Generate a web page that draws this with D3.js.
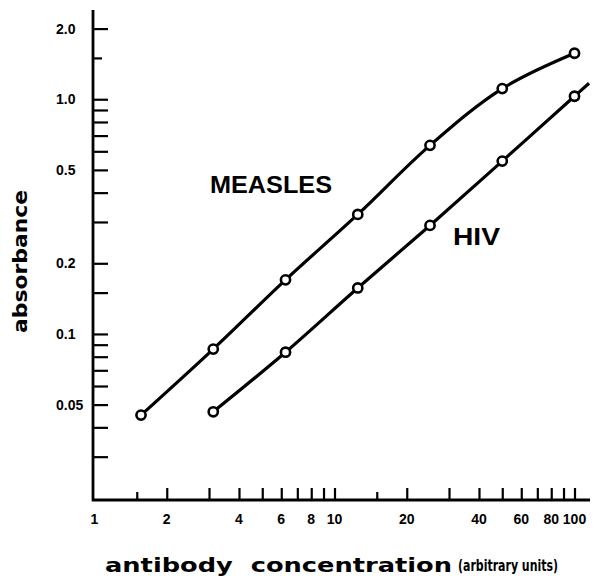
<!DOCTYPE html>
<html>
<head>
<meta charset="utf-8">
<script src="https://cdn.jsdelivr.net/npm/d3@7"></script>
<style>
  html, body { margin: 0; padding: 0; background: #fff; }
  svg { display: block; }
  text { fill: #000; }
</style>
</head>
<body>
<svg id="chart" width="595" height="576"></svg>
<script>
// ---- data ----
const measlesConc = [1.5625, 3.125, 6.25, 12.5, 25, 50, 100];
const measlesAbs  = [0.0451, 0.0862, 0.170, 0.323, 0.636, 1.11, 1.57];
const hivConc     = [3.125, 6.25, 12.5, 25, 50, 100];
const hivAbs      = [0.0466, 0.0836, 0.157, 0.290, 0.545, 1.03];
const hivLineEnd  = [115, 1.17];   // the HIV line runs on past its last point

const xTickValues  = [1.5, 2, 3, 4, 5, 6, 7, 8, 9, 10, 15, 20, 30, 40, 50, 60, 70, 80, 90, 100];
const xShortTicks  = [1.5, 15];
const xTickLabels  = [1, 2, 4, 6, 8, 10, 20, 40, 60, 80, 100];
const yTickValues  = [2, 1.5, 1, 0.9, 0.8, 0.7, 0.6, 0.5, 0.4, 0.3, 0.2, 0.15, 0.1, 0.09, 0.08, 0.07, 0.06, 0.05, 0.04, 0.03];
const yShortTicks  = [1.5];
const yTickLabels  = [["2.0", 2], ["1.0", 1], ["0.5", 0.5], ["0.2", 0.2], ["0.1", 0.1], ["0.05", 0.05]];

const svg = d3.select("#chart");

const x = d3.scaleLog().domain([1, 100]).range([94.5, 574.5]);
const y = d3.scaleLog().domain([0.02, 2.4]).range([498, 10]);

const axisX0 = 93, axisY0 = 500;

// ---- axes ----
const gx = svg.append("g").attr("transform", `translate(0,${axisY0})`);
gx.call(d3.axisBottom(x).tickValues(xTickValues).tickFormat("").tickSizeOuter(0).tickSizeInner(0));
gx.select(".domain").remove();
gx.selectAll(".tick line")
  .attr("y2", d => xShortTicks.includes(d) ? -8 : -12)
  .attr("stroke", "#000").attr("stroke-width", 2.2);
gx.append("line").attr("x1", axisX0 - 1).attr("x2", 590).attr("y1", 0).attr("y2", 0)
  .attr("stroke", "#000").attr("stroke-width", 2.8);

gx.selectAll("text.xl").data(xTickLabels).enter().append("text")
  .attr("class", "xl")
  .attr("x", d => x(d)).attr("y", 24)
  .attr("text-anchor", "middle")
  .style("font-family", "'Liberation Sans', Arial, sans-serif")
  .style("font-weight", "bold").style("font-size", "14px")
  .text(d => d);

const gy = svg.append("g").attr("transform", `translate(${axisX0},0)`);
gy.call(d3.axisLeft(y).tickValues(yTickValues).tickFormat("").tickSizeOuter(0).tickSizeInner(0));
gy.select(".domain").remove();
gy.selectAll(".tick line")
  .attr("x2", d => yShortTicks.includes(d) ? 9 : 15)
  .attr("stroke", "#000").attr("stroke-width", 2.2);
gy.append("line").attr("x1", 0).attr("x2", 0).attr("y1", 10).attr("y2", axisY0 + 1)
  .attr("stroke", "#000").attr("stroke-width", 2.8);

svg.selectAll("text.yl").data(yTickLabels).enter().append("text")
  .attr("class", "yl")
  .attr("x", 56).attr("y", d => y(d[1]) + 5)
  .style("font-family", "'Liberation Sans', Arial, sans-serif")
  .style("font-weight", "bold").style("font-size", "14px")
  .text(d => d[0]);

// ---- axis titles ----
svg.append("text")
  .attr("transform", "translate(27,333) rotate(-90)")
  .attr("textLength", 143).attr("lengthAdjust", "spacingAndGlyphs")
  .style("font-family", "'DejaVu Sans', sans-serif")
  .style("font-weight", "bold").style("font-size", "20px")
  .text("absorbance");

svg.append("text")
  .attr("x", 105).attr("y", 572)
  .attr("textLength", 347).attr("lengthAdjust", "spacingAndGlyphs")
  .style("font-family", "'DejaVu Sans', sans-serif")
  .style("font-weight", "bold").style("font-size", "20px")
  .text("antibody\u00a0\u00a0concentration");

svg.append("text")
  .attr("x", 458).attr("y", 571)
  .attr("textLength", 100).attr("lengthAdjust", "spacingAndGlyphs")
  .style("font-family", "'DejaVu Sans', sans-serif")
  .style("font-weight", "bold").style("font-size", "15px")
  .text("(arbitrary units)");

// ---- series ----
const measles = measlesConc.map((c, i) => [c, measlesAbs[i]]);
const hiv = hivConc.map((c, i) => [c, hivAbs[i]]);

const line = d3.line().x(d => x(d[0])).y(d => y(d[1])).curve(d3.curveCatmullRom.alpha(0.5));

svg.append("path").datum(measles).attr("d", line)
  .attr("fill", "none").attr("stroke", "#000").attr("stroke-width", 3.2);
svg.append("path").datum(hiv.concat([hivLineEnd])).attr("d", line)
  .attr("fill", "none").attr("stroke", "#000").attr("stroke-width", 3.2);

svg.selectAll("circle.pt").data(measles.concat(hiv)).enter().append("circle")
  .attr("class", "pt")
  .attr("cx", d => x(d[0])).attr("cy", d => y(d[1])).attr("r", 4.6)
  .attr("fill", "#fff").attr("stroke", "#000").attr("stroke-width", 2.6);

// ---- series labels ----
svg.append("text").attr("x", 210).attr("y", 193)
  .attr("textLength", 122).attr("lengthAdjust", "spacingAndGlyphs")
  .style("font-family", "'Liberation Sans', Arial, sans-serif")
  .style("font-weight", "bold").style("font-size", "23px")
  .text("MEASLES");

svg.append("text").attr("x", 453).attr("y", 245)
  .attr("textLength", 47).attr("lengthAdjust", "spacingAndGlyphs")
  .style("font-family", "'Liberation Sans', Arial, sans-serif")
  .style("font-weight", "bold").style("font-size", "24px")
  .text("HIV");
</script>
</body>
</html>
